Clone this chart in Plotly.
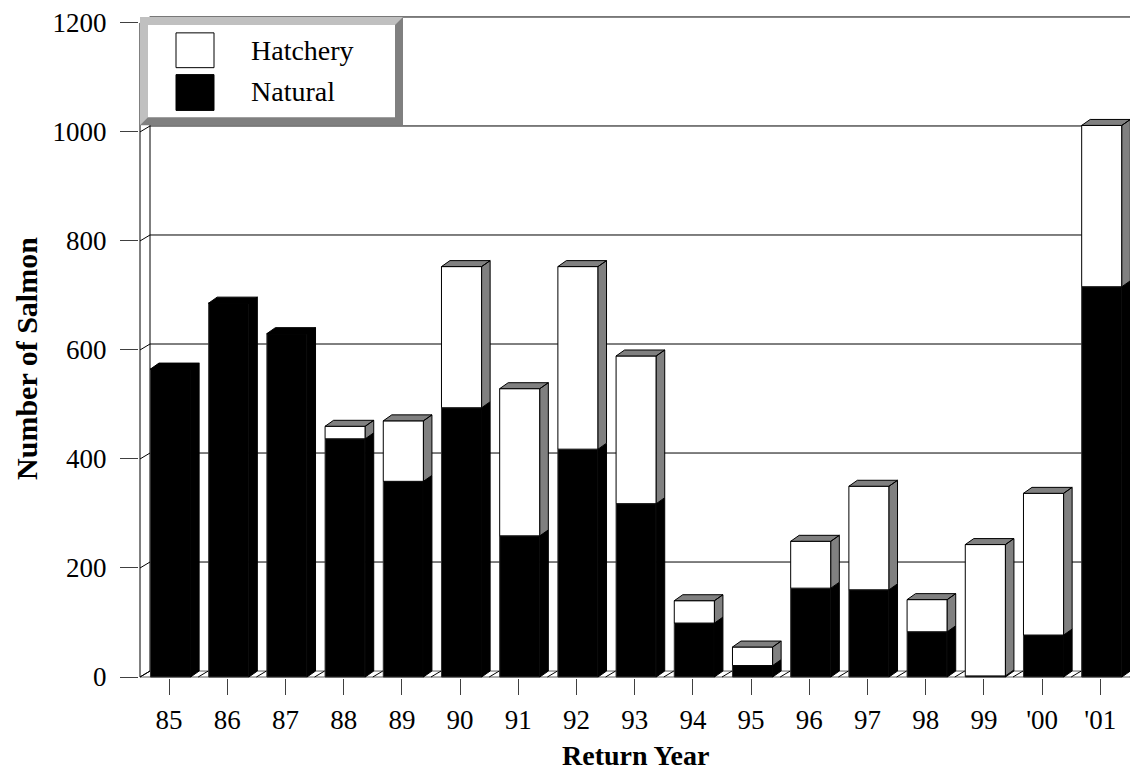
import plotly.graph_objects as go

# ---------------- data ----------------
years = ["85", "86", "87", "88", "89", "90", "91", "92", "93", "94", "95",
         "96", "97", "98", "99", "'00", "'01"]
natural = [565, 686, 630, 437, 359, 494, 259, 418, 318, 99, 21, 163, 160, 83, 2, 77, 716]
hatchery = [0, 0, 0, 23, 111, 259, 270, 335, 271, 41, 34, 86, 190, 59, 241, 260, 296]
y_ticks = [0, 200, 400, 600, 800, 1000, 1200]

# ---------------- geometry ----------------
# the page body has an 8px margin, so the figure starts at (8, 8)
OFF = 8
W, H = 1138 - OFF, 772 - OFF
# plot area in reference-page pixels
L_ref, R_ref, T_ref, B_ref = 139, 1138, 8, 678
L, R, T, B = L_ref - OFF, R_ref - OFF, T_ref - OFF, B_ref - OFF
PXX = 58.2                               # px per category
PXY = 658 / 1200                         # px per salmon
x0_front = 140                           # ref px of category -0.5
y0_front = 677                           # ref px of value 0
xr = [-0.5 - (x0_front - L_ref) / PXX, -0.5 + (R_ref - x0_front) / PXX]
yr = [-(B_ref - y0_front) / PXY, (y0_front - T_ref) / PXY]

BAR_L, BAR_W = -0.32, 0.69               # front face offset/width
DX, DY = 8.5 / PXX, 6 / PXY              # bar depth
WDX, WDY = 10 / PXX, 6 / PXY             # wall depth

def px(xp):
    return (xp - L_ref) / (R_ref - L_ref)

def py(yp):
    return (B_ref - yp) / (B_ref - T_ref)

idx = list(range(len(years)))

fig = go.Figure()

# front faces
fig.add_trace(go.Bar(x=idx, y=natural, width=BAR_W, offset=BAR_L,
                     marker=dict(color="black", line=dict(color="#303030", width=1)),
                     name="Natural", showlegend=False, hoverinfo="skip"))
fig.add_trace(go.Bar(x=idx, y=hatchery, base=natural, width=BAR_W, offset=BAR_L,
                     marker=dict(color="white", line=dict(color="black", width=1)),
                     name="Hatchery", showlegend=False, hoverinfo="skip"))

# 3D side/top faces
bx, by, gx, gy = [], [], [], []
for i, n, h in zip(idx, natural, hatchery):
    t = n + h
    a = i + BAR_L
    b = a + BAR_W
    bx += [b, b + DX, b + DX, b, b, None]
    by += [0, DY, n + DY, n, 0, None]
    if h > 0:
        gx += [b, b + DX, b + DX, b, b, None]
        gy += [n, n + DY, t + DY, t, n, None]
        gx += [a, a + DX, b + DX, b, a, None]
        gy += [t, t + DY, t + DY, t, t, None]
    else:
        bx += [a, a + DX, b + DX, b, a, None]
        by += [t, t + DY, t + DY, t, t, None]

fig.add_trace(go.Scatter(x=bx, y=by, mode="lines", fill="toself",
                         fillcolor="black", line=dict(color="black", width=1),
                         showlegend=False, hoverinfo="skip"))
fig.add_trace(go.Scatter(x=gx, y=gy, mode="lines", fill="toself",
                         fillcolor="#808080", line=dict(color="black", width=1),
                         showlegend=False, hoverinfo="skip"))

shapes = []
line_k = dict(color="black", width=1)
wall_x = -0.5 + WDX
for v in y_ticks[1:]:
    shapes.append(dict(type="line", xref="x", yref="y", x0=wall_x, x1=xr[1],
                       y0=v + WDY, y1=v + WDY, line=line_k, layer="below"))
shapes.append(dict(type="line", xref="x", yref="y", x0=wall_x, x1=wall_x,
                   y0=WDY, y1=1200 + WDY, line=line_k, layer="below"))
shapes.append(dict(type="line", xref="x", yref="y", x0=-0.5, x1=-0.5,
                   y0=0, y1=1200, line=line_k, layer="below"))
for v in y_ticks:
    shapes.append(dict(type="line", xref="x", yref="y", x0=-0.5, x1=wall_x,
                       y0=v, y1=v + WDY, line=line_k, layer="below"))
shapes.append(dict(type="line", xref="x", yref="y", x0=-0.5, x1=len(years) - 0.5,
                   y0=0, y1=0, line=dict(color="#606060", width=1), layer="below"))
shapes.append(dict(type="line", xref="x", yref="y", x0=wall_x, x1=xr[1],
                   y0=WDY, y1=WDY, line=dict(color="#606060", width=1), layer="below"))
for k in range(len(years) + 1):
    xb = k - 0.5
    shapes.append(dict(type="line", xref="x", yref="y", x0=xb, x1=xb + WDX,
                       y0=0, y1=WDY, line=line_k, layer="below"))

# legend box with bevel (reference px)
lx0, lx1, ly0, ly1, bev = 140, 403, 13, 122, 8
shapes.append(dict(type="rect", xref="paper", yref="paper",
                   x0=px(lx0), x1=px(lx1), y0=py(ly1), y1=py(ly0),
                   fillcolor="#808080", line=dict(width=0), layer="above"))
path = (f"M {px(lx0)},{py(ly1)} L {px(lx0)},{py(ly0)} L {px(lx1)},{py(ly0)} "
        f"L {px(lx1 - bev)},{py(ly0 + bev)} L {px(lx0 + bev)},{py(ly0 + bev)} "
        f"L {px(lx0 + bev)},{py(ly1 - bev)} Z")
shapes.append(dict(type="path", xref="paper", yref="paper", path=path,
                   fillcolor="#c0c0c0", line=dict(width=0), layer="above"))
shapes.append(dict(type="rect", xref="paper", yref="paper",
                   x0=px(lx0 + bev), x1=px(lx1 - bev), y0=py(ly1 - bev), y1=py(ly0 + bev),
                   fillcolor="white", line=dict(width=0), layer="above"))
shapes.append(dict(type="rect", xref="paper", yref="paper",
                   x0=px(176), x1=px(214), y0=py(64), y1=py(29),
                   fillcolor="white", line=dict(color="black", width=1), layer="above"))
shapes.append(dict(type="rect", xref="paper", yref="paper",
                   x0=px(176), x1=px(214), y0=py(107), y1=py(71),
                   fillcolor="black", line=dict(color="black", width=1), layer="above"))

serif = "Liberation Serif, Times New Roman, serif"
annotations = [
    dict(text="Hatchery", xref="paper", yref="paper", x=px(249), y=py(47),
         xanchor="left", yanchor="middle", showarrow=False,
         font=dict(family=serif, size=28, color="black")),
    dict(text="Natural", xref="paper", yref="paper", x=px(249), y=py(88),
         xanchor="left", yanchor="middle", showarrow=False,
         font=dict(family=serif, size=28, color="black")),
    dict(text="<b>Number of Salmon</b>", xref="paper", yref="paper", x=px(27), y=py(357),
         xanchor="center", yanchor="middle", textangle=-90, showarrow=False,
         font=dict(family=serif, size=30, color="black")),
    dict(text="<b>Return Year</b>", xref="paper", yref="paper", x=px(635), y=py(756),
         xanchor="center", yanchor="middle", showarrow=False,
         font=dict(family=serif, size=28, color="black")),
]

fig.update_layout(
    width=W, height=H,
    margin=dict(l=L, r=W - R, t=T, b=H - B, pad=0),
    paper_bgcolor="white", plot_bgcolor="white",
    barmode="overlay", showlegend=False,
    shapes=shapes, annotations=annotations,
    font=dict(family=serif, size=27, color="black"),
)
fig.update_xaxes(range=xr, tickmode="array", tickvals=idx, ticktext=years,
                 ticks="outside", ticklen=16, tickcolor="#404040", tickwidth=1,
                 showgrid=False, zeroline=False, showline=False,
                 ticklabelstandoff=2,
                 tickfont=dict(family=serif, size=27, color="black"), fixedrange=True)
fig.update_yaxes(range=yr, tickmode="array", tickvals=y_ticks,
                 ticktext=[str(v) for v in y_ticks],
                 ticks="outside", ticklen=18, tickcolor="#404040", tickwidth=1,
                 showgrid=False, zeroline=False, showline=False,
                 ticklabelstandoff=8, ticklabeloverflow="allow",
                 tickfont=dict(family=serif, size=27, color="black"), fixedrange=True)

fig.write_html("out.html")
